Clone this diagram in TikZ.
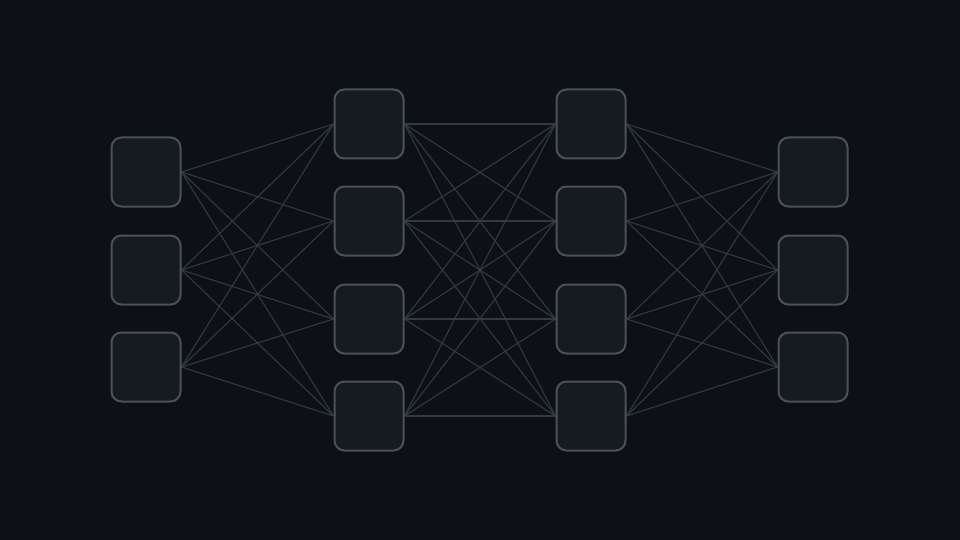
\documentclass[tikz,border=0pt]{standalone}
\begin{document}
\begin{tikzpicture}[x=1pt,y=-1pt,
  neuron/.style={draw=nborder,fill=nfill,line width=2pt,rounded corners=10pt,minimum width=69pt,minimum height=69pt,inner sep=0pt},
  link/.style={draw=edgec,line width=1.1pt}]
\definecolor{bg}{HTML}{0D1117}
\definecolor{nfill}{HTML}{161B22}
\definecolor{nborder}{HTML}{4A5158}
\definecolor{edgec}{HTML}{33393F}
\pgfdeclarelayer{bglayer}
\pgfdeclarelayer{edgelayer}
\pgfsetlayers{bglayer,edgelayer,main}
\begin{pgfonlayer}{bglayer}
\fill[bg] (0,0) rectangle (960,540);
\end{pgfonlayer}
\useasboundingbox (0,0) rectangle (960,540);
\foreach \i/\y in {1/172,2/270,3/367} {\node[neuron] (a\i) at (146,\y) {};}
\foreach \i/\y in {1/124,2/221,3/319,4/416} {\node[neuron] (b\i) at (369,\y) {};}
\foreach \i/\y in {1/124,2/221,3/319,4/416} {\node[neuron] (c\i) at (591,\y) {};}
\foreach \i/\y in {1/172,2/270,3/367} {\node[neuron] (d\i) at (813,\y) {};}
\begin{pgfonlayer}{edgelayer}
\foreach \i in {1,2,3} \foreach \j in {1,2,3,4} {\draw[link] (a\i.east) -- (b\j.west);}
\foreach \i in {1,2,3,4} \foreach \j in {1,2,3,4} {\draw[link] (b\i.east) -- (c\j.west);}
\foreach \i in {1,2,3,4} \foreach \j in {1,2,3} {\draw[link] (c\i.east) -- (d\j.west);}
\end{pgfonlayer}
\end{tikzpicture}
\end{document}
